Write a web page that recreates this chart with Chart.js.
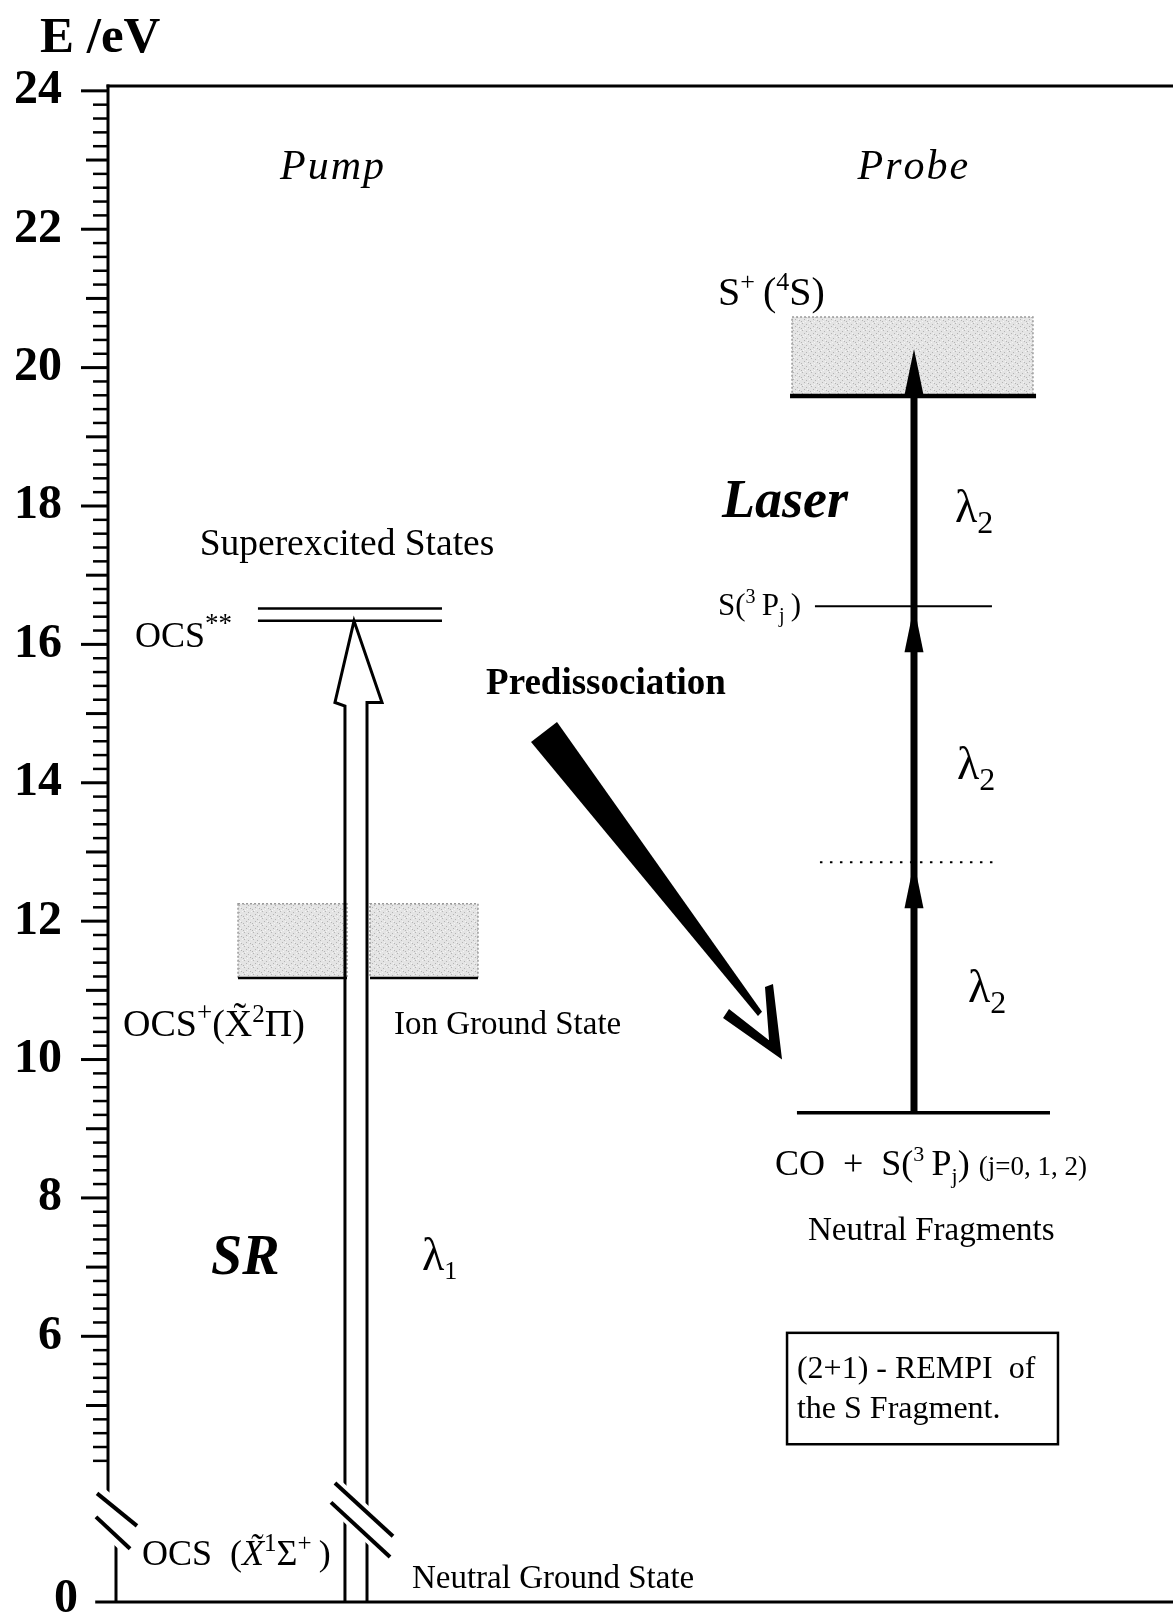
<!DOCTYPE html>
<html>
<head>
<meta charset="utf-8">
<title>OCS pump–probe energy diagram</title>
<script src="https://cdn.jsdelivr.net/npm/chart.js@4.4.1/dist/chart.umd.min.js"></script>
<style>
  html, body { margin: 0; padding: 0; background: #fff; }
  canvas { display: block; }
</style>
</head>
<body>
<canvas id="diagram" width="1173" height="1613"></canvas>
<script>
// ---------------- energies (eV) ----------------
const energyTicks      = [0, 6, 8, 10, 12, 14, 16, 18, 20, 22, 24];
const energyTickLabels = ['0', '6', '8', '10', '12', '14', '16', '18', '20', '22', '24'];

const groundState        = 0;               // OCS (X 1Σ+)
const ionGround          = 11.18;           // OCS+ (X 2Π)
const ionBandTop         = 12.25;
const superexcitedLevels = [16.34, 16.52];  // OCS**
const fragmentLevel      = 9.23;            // CO + S(3Pj)
const virtualLevel       = 12.85;           // one-photon virtual level
const resonantLevel      = 16.55;           // S(3Pj) two-photon resonance
const sIonLevel          = 19.59;           // S+(4S)
const sIonBandTop        = 20.73;
const laserSteps         = [fragmentLevel, virtualLevel, resonantLevel, 20.27];
const pumpFrom           = groundState;
const pumpTo             = superexcitedLevels[0];

// ---------------- broken energy axis ----------------
const BREAK_BELOW = 4;      // energies below this are squeezed
const AXIS_FLOOR  = 2.16;   // axis position of 0 eV
const AXIS_TOP    = 24.07;
const axisValue = e => e >= BREAK_BELOW ? e : AXIS_FLOOR + e * (BREAK_BELOW - AXIS_FLOOR) / BREAK_BELOW;

// ---------------- horizontal layout (0..100 across the frame) ----------------
const X = {
  superexcited: [14.08, 31.36],
  ionLeft: [12.21, 22.44], ionRight: [24.6, 34.74],
  pumpShaft: [22.25, 24.32], pumpHead: [21.31, 25.73], pumpTip: 23.1,
  fragment: [64.69, 88.45], virtual: [66.85, 83.29], resonant: [66.38, 83.0],
  sIon: [64.04, 87.14], sIonBand: [64.23, 86.85], laser: 75.68,
  rempiBox: [63.76, 89.2]
};
const PUMP_HEAD_EV = 1.18;
const LASER_HEAD_PX = 46, LASER_HEAD_HALF = 9.5;

const FONT = "'Liberation Serif', 'Times New Roman', Times, serif";
const font = (size, weight = 'normal', style = 'normal') => `${style} ${weight} ${size}px ${FONT}`;

const seg = (x0, x1, e) => [{ x: x0, y: axisValue(e) }, { x: x1, y: axisValue(e) }];
const lineSet = (data, width, extra = {}) => Object.assign({
  data, borderColor: '#000', borderWidth: width, pointRadius: 0, fill: false,
  tension: 0, clip: false, borderCapStyle: 'butt', borderJoinStyle: 'miter'
}, extra);

const pumpBase = pumpTo - PUMP_HEAD_EV;
const pumpOutline = [
  { x: X.pumpShaft[0], y: axisValue(pumpFrom) },
  { x: X.pumpShaft[0], y: pumpBase - 0.05 },
  { x: X.pumpHead[0],  y: pumpBase },
  { x: X.pumpTip,      y: pumpTo },
  { x: X.pumpHead[1],  y: pumpBase },
  { x: X.pumpShaft[1], y: pumpBase },
  { x: X.pumpShaft[1], y: axisValue(pumpFrom) }
];
const laserHeadEV = LASER_HEAD_PX / 69.2;
const laserShaft = [
  { x: X.laser, y: laserSteps[0] },
  { x: X.laser, y: laserSteps[laserSteps.length - 1] - laserHeadEV }
];

// ---------------- annotations: text runs ----------------
// each run: [text, size, dy, weight, style]
const labels = [
  { u: 21.13, v: 22.72, align: 'center', runs: [['Pump', 42, 0, 'normal', 'italic']], spacing: 2 },
  { u: 75.59, v: 22.72, align: 'center', runs: [['Probe', 42, 0, 'normal', 'italic']], spacing: 2 },
  { u: 22.44, v: 17.29, align: 'center', runs: [['Superexcited States', 37.5]] },
  { u: 2.54,  v: 15.96, align: 'left',   runs: [['OCS', 36], ['**', 27, -15]] },
  { u: 46.76, v: 15.28, align: 'center', runs: [['Predissociation', 37, 0, 'bold']] },
  { u: 57.28, v: 20.90, align: 'left',   runs: [['S', 40], ['+', 26, -15], ['\u2009(', 40], ['4', 26, -15], ['S)', 40]] },
  { u: 63.57, v: 17.84, align: 'center', runs: [['Laser', 54, 0, 'bold', 'italic']] },
  { u: 79.53, v: 17.77, align: 'left',   runs: [['λ', 46], ['2', 32, 11]] },
  { u: 65.07, v: 16.42, align: 'right',  runs: [['S(', 31], ['3', 20, -12], ['\u2009P', 31], ['j', 20, 7], ['\u2009)', 31]] },
  { u: 79.72, v: 14.06, align: 'left',   runs: [['λ', 46], ['2', 32, 11]] },
  { u: 80.75, v: 10.83, align: 'left',   runs: [['λ', 46], ['2', 32, 11]] },
  { u: 1.41,  v: 10.34, align: 'left',   runs: [['OCS', 38], ['+', 27, -15], ['(X\u0303', 38], ['2', 25, -14], ['Π)', 38]] },
  { u: 26.85, v: 10.37, align: 'left',   runs: [['Ion Ground State', 33]] },
  { u: 62.63, v: 8.33,  align: 'left',   runs: [['CO  +  S(', 36], ['3', 22, -14], ['\u2009P', 36], ['j', 22, 8], [') ', 36], ['(j=0, 1, 2)', 27]] },
  { u: 65.73, v: 7.39,  align: 'left',   runs: [['Neutral Fragments', 33]] },
  { u: 9.67,  v: 6.90,  align: 'left',   runs: [['SR', 56, 0, 'bold', 'italic']] },
  { u: 29.48, v: 6.96,  align: 'left',   runs: [['λ', 46], ['1', 26, 9]] },
  { u: 64.69, v: 5.40,  align: 'left',   runs: [['(2+1) - REMPI  of', 32]] },
  { u: 64.69, v: 4.82,  align: 'left',   runs: [['the S Fragment.', 32]] },
  { u: 3.19,  v: 2.70,  align: 'left',   runs: [['OCS  (', 36], ['X\u0303', 36, 0, 'normal', 'italic'], ['1', 25, -14], ['Σ', 36], ['+', 25, -14], ['\u2009)', 36]] },
  { u: 28.54, v: 2.36,  align: 'left',   runs: [['Neutral Ground State', 33]] }
];

// axis-break marks (pairs of slanted strokes), in (u, axis value)
const breakMarks = [
  { pad: 11, lines: [[[-1.03, 3.73], [2.72, 3.26]], [[-1.13, 3.39], [2.07, 2.93]]] },
  { pad: 8,  lines: [[[21.31, 3.88], [26.76, 3.11]], [[20.94, 3.60], [26.48, 2.81]]] }
];
// tapered predissociation stroke and its open arrowhead
const wedgeShape   = [[39.72, 14.59], [42.16, 14.88], [61.41, 10.69], [61.03, 10.63]];
const chevronShape = [[57.75, 10.60], [58.31, 10.73], [62.07, 10.28], [61.69, 11.05], [62.44, 11.09], [63.29, 10.0]];
const rempiBoxV = [6.05, 4.44];

function drawRuns(ctx, x, y, runs, align, spacing) {
  const widths = runs.map(r => {
    ctx.font = font(r[1], r[3], r[4]);
    return ctx.measureText(r[0]).width + (spacing ? spacing * r[0].length : 0);
  });
  const total = widths.reduce((a, b) => a + b, 0);
  let cx = align === 'center' ? x - total / 2 : align === 'right' ? x - total : x;
  runs.forEach((r, i) => {
    ctx.font = font(r[1], r[3], r[4]);
    if (spacing) {
      for (const ch of r[0]) { ctx.fillText(ch, cx, y + (r[2] || 0)); cx += ctx.measureText(ch).width + spacing; }
    } else {
      ctx.fillText(r[0], cx, y + (r[2] || 0));
      cx += widths[i];
    }
  });
}

// light stipple used for the ionisation continua
function stipple(ctx) {
  const t = document.createElement('canvas');
  t.width = 9; t.height = 7;
  const c = t.getContext('2d');
  c.fillStyle = '#e4e4e4';
  c.fillRect(0, 0, 9, 7);
  c.fillStyle = '#b4b4b4';
  [[1, 1], [5, 2], [3, 4], [7, 5], [0, 6]].forEach(([a, b]) => c.fillRect(a, b, 1, 1));
  c.fillStyle = '#f4f4f4';
  [[2, 0], [6, 4], [8, 1], [4, 6]].forEach(([a, b]) => c.fillRect(a, b, 1, 1));
  return ctx.createPattern(t, 'repeat');
}

const diagramPlugin = {
  id: 'diagram',
  beforeDatasetsDraw(chart) {
    const { ctx } = chart;
    const xs = chart.scales.x, ys = chart.scales.y;
    const px = u => xs.getPixelForValue(u), py = v => ys.getPixelForValue(v);
    ctx.save();
    const pat = stipple(ctx);
    const band = (x0, x1, e0, e1) => {
      const l = px(x0), r = px(x1), t = py(e1), b = py(e0);
      ctx.fillStyle = pat;
      ctx.fillRect(l, t, r - l, b - t);
      ctx.strokeStyle = '#9a9a9a';
      ctx.lineWidth = 1.5;
      ctx.setLineDash([2, 2]);
      ctx.strokeRect(l, t, r - l, b - t);
      ctx.setLineDash([]);
    };
    band(X.ionLeft[0], X.ionLeft[1], ionGround, ionBandTop);
    band(X.ionRight[0], X.ionRight[1], ionGround, ionBandTop);
    band(X.sIonBand[0], X.sIonBand[1], sIonLevel, sIonBandTop);
    ctx.restore();
  },
  afterDatasetsDraw(chart) {
    const { ctx, chartArea } = chart;
    const xs = chart.scales.x, ys = chart.scales.y;
    const px = u => xs.getPixelForValue(u), py = v => ys.getPixelForValue(v);
    ctx.save();
    ctx.fillStyle = '#000';
    ctx.strokeStyle = '#000';

    // laser arrowheads
    const lx = px(X.laser);
    for (let i = 1; i < laserSteps.length; i++) {
      const tip = py(laserSteps[i]);
      ctx.beginPath();
      ctx.moveTo(lx, tip);
      ctx.lineTo(lx + LASER_HEAD_HALF, tip + LASER_HEAD_PX);
      ctx.lineTo(lx - LASER_HEAD_HALF, tip + LASER_HEAD_PX);
      ctx.closePath();
      ctx.fill();
    }

    // energy axis line and ticks
    const ax = chartArea.left;
    const floorY = py(axisValue(groundState));
    ctx.lineWidth = 3;
    ctx.beginPath();
    ctx.moveTo(ax, chartArea.top - 1.5);
    ctx.lineTo(ax, py(3.3));
    ctx.moveTo(ax + 8, py(3.3));
    ctx.lineTo(ax + 8, floorY);
    ctx.stroke();
    for (let i = 21; i <= 120; i++) {
      const v = i / 5;
      const len = i % 10 === 0 ? 27 : (i % 5 === 0 ? 22 : 15);
      ctx.lineWidth = i % 5 === 0 ? 3 : 2.5;
      ctx.beginPath();
      ctx.moveTo(ax - len, py(v));
      ctx.lineTo(ax, py(v));
      ctx.stroke();
    }
    // top frame line
    ctx.lineWidth = 3;
    ctx.beginPath();
    ctx.moveTo(ax - 1.5, chartArea.top);
    ctx.lineTo(chartArea.right, chartArea.top);
    ctx.stroke();

    // axis breaks: blank the gap, then the slanted strokes
    breakMarks.forEach(bm => {
      const [a, b] = bm.lines;
      ctx.fillStyle = '#fff';
      ctx.beginPath();
      ctx.moveTo(px(a[0][0]), py(a[0][1]) - bm.pad);
      ctx.lineTo(px(a[1][0]), py(a[1][1]) - bm.pad);
      ctx.lineTo(px(b[1][0]), py(b[1][1]) + bm.pad);
      ctx.lineTo(px(b[0][0]), py(b[0][1]) + bm.pad);
      ctx.closePath();
      ctx.fill();
      ctx.lineWidth = 4;
      bm.lines.forEach(l => {
        ctx.beginPath();
        ctx.moveTo(px(l[0][0]), py(l[0][1]));
        ctx.lineTo(px(l[1][0]), py(l[1][1]));
        ctx.stroke();
      });
    });
    ctx.fillStyle = '#000';

    // predissociation arrow
    const poly = pts => {
      ctx.beginPath();
      pts.forEach((p, i) => i ? ctx.lineTo(px(p[0]), py(p[1])) : ctx.moveTo(px(p[0]), py(p[1])));
      ctx.closePath();
      ctx.fill();
    };
    poly(wedgeShape);
    poly(chevronShape);

    // REMPI box
    ctx.lineWidth = 2.5;
    const bl = px(X.rempiBox[0]), br = px(X.rempiBox[1]);
    const bt = py(rempiBoxV[0]), bb = py(rempiBoxV[1]);
    ctx.strokeRect(bl, bt, br - bl, bb - bt);

    // text
    ctx.textBaseline = 'alphabetic';
    ctx.textAlign = 'left';
    labels.forEach(l => drawRuns(ctx, px(l.u), py(l.v), l.runs, l.align, l.spacing));

    // zero label sits further right, beside the broken part of the axis
    ctx.font = font(48, 'bold');
    ctx.textAlign = 'right';
    ctx.textBaseline = 'middle';
    ctx.fillText(energyTickLabels[0], ax - 30, floorY - 2);

    // axis title
    ctx.textAlign = 'left';
    ctx.textBaseline = 'alphabetic';
    ctx.font = font(51, 'bold');
    ctx.fillText('E /eV', 40, 52);
    ctx.restore();
  }
};

new Chart(document.getElementById('diagram'), {
  type: 'line',
  data: {
    datasets: [
      lineSet(seg(-1.2, 100, groundState), 3),
      lineSet(seg(X.ionLeft[0], X.ionLeft[1], ionGround), 2.5),
      lineSet(seg(X.ionRight[0], X.ionRight[1], ionGround), 2.5),
      lineSet(seg(X.superexcited[0], X.superexcited[1], superexcitedLevels[0]), 2.5),
      lineSet(seg(X.superexcited[0], X.superexcited[1], superexcitedLevels[1]), 2.5),
      lineSet(seg(X.fragment[0], X.fragment[1], fragmentLevel), 3.5),
      lineSet(seg(X.virtual[0], X.virtual[1], virtualLevel), 2, { borderDash: [2.5, 7.5] }),
      lineSet(seg(X.resonant[0], X.resonant[1], resonantLevel), 2),
      lineSet(seg(X.sIon[0], X.sIon[1], sIonLevel), 4.5),
      lineSet(laserShaft, 7),
      lineSet(pumpOutline, 3)
    ]
  },
  options: {
    responsive: false,
    animation: false,
    events: [],
    layout: { padding: { top: 86, bottom: 11, left: 0, right: 0 } },
    plugins: { legend: { display: false }, tooltip: { enabled: false }, title: { display: false } },
    scales: {
      x: { type: 'linear', min: 0, max: 100, display: false },
      y: {
        type: 'linear',
        min: axisValue(groundState),
        max: AXIS_TOP,
        border: { display: false },
        grid: { display: false, drawTicks: false },
        afterBuildTicks: s => { s.ticks = energyTicks.map(e => ({ value: axisValue(e) })); },
        afterFit: s => { s.width = 108; s.paddingTop = 0; s.paddingBottom = 0; },
        ticks: {
          autoSkip: false,
          padding: 46,
          color: '#000',
          font: { family: FONT, size: 48, weight: 'bold' },
          callback: (val, idx) => idx === 0 ? '' : energyTickLabels[idx]
        }
      }
    }
  },
  plugins: [diagramPlugin]
});
</script>
</body>
</html>
